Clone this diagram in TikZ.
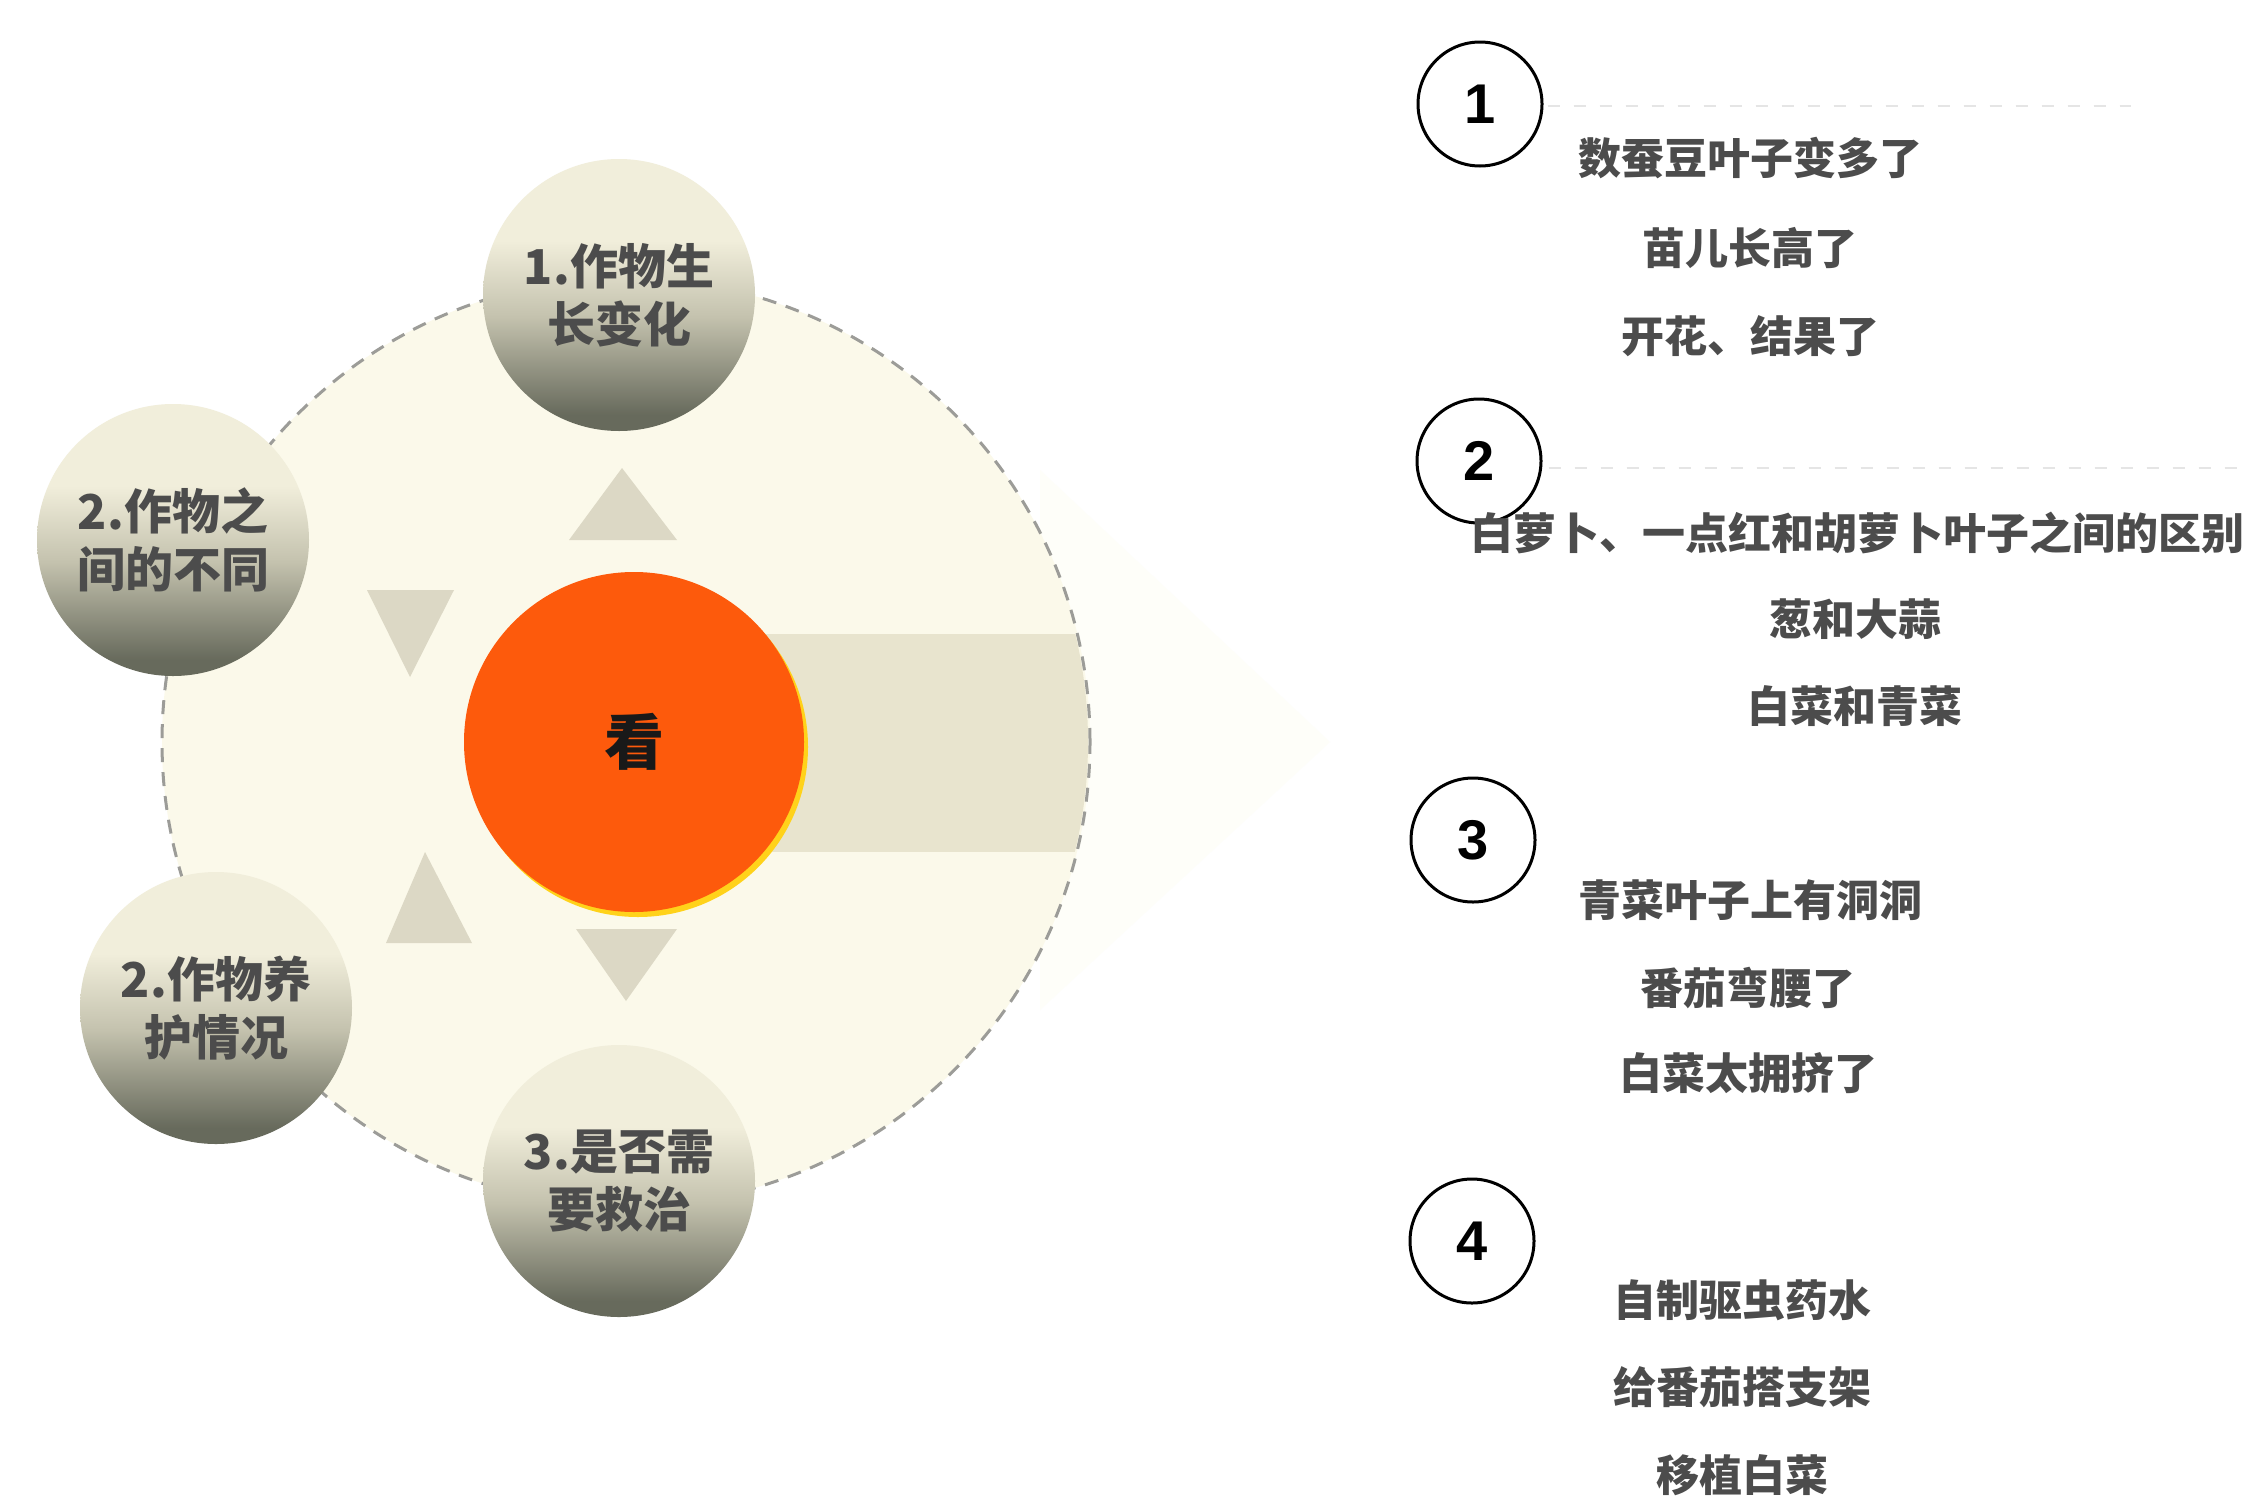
\documentclass[tikz,border=0pt]{standalone}
\usepackage{fontspec}
\newfontfamily\cjk{Noto Sans CJK SC}
\setmainfont{Liberation Sans}
\usetikzlibrary{shapes.geometric}
\definecolor{ballTop}{HTML}{F1EEDB}
\definecolor{ballMid}{HTML}{C4C2AE}
\definecolor{ballBot}{HTML}{676A5C}
\definecolor{cream}{HTML}{FBF9EA}
\definecolor{beige}{HTML}{E8E4CE}
\definecolor{tri}{HTML}{DCD8C5}
\definecolor{orangeC}{HTML}{FD5A0C}
\definecolor{rimY}{HTML}{FFD21A}
\definecolor{dashG}{HTML}{9C9C98}
\definecolor{txt}{HTML}{2C2C2C}
\definecolor{ghost}{HTML}{FEFEF9}
\pgfdeclareverticalshading{ballshade}{100bp}{color(0bp)=(ballBot); color(28bp)=(ballBot); color(46bp)=(ballMid); color(60bp)=(ballTop); color(100bp)=(ballTop)}
\tikzset{
  ball/.style={circle, minimum size=272pt, inner sep=0pt, shading=ballshade, align=center,
    font=\cjk\bfseries\fontsize{48}{58}\selectfont, text=txt!85},
  numc/.style={circle, draw=black, line width=3pt, fill=white, minimum size=124pt, inner sep=0pt,
    font=\bfseries\fontsize{56}{60}\selectfont},
  item/.style={font=\cjk\bfseries\fontsize{43}{50}\selectfont, text=txt!85, inner sep=0pt},
  tria/.style={fill=tri},
  faint/.style={draw=black!10, line width=2pt, dash pattern=on 12pt off 14pt}
}
\begin{document}
\begin{tikzpicture}[x=1pt,y=-1pt]
\useasboundingbox (0,0) rectangle (2258,1499);
\fill[white] (0,0) rectangle (2258,1499);
% faint arrow beyond the circle
\fill[ghost] (1040,470) -- (1330,742) -- (1040,1010) -- cycle;
% big dashed circle
\node[circle, minimum size=928pt, inner sep=0pt, fill=cream, draw=dashG, line width=3pt,
      dash pattern=on 14pt off 10pt] (big) at (626,742) {};
% beige band
\begin{scope}
  \clip (626,742) circle (462);
  \fill[beige] (634,634) rectangle (1090,852);
\end{scope}
% triangles
\fill[tria] (622,468) -- (677,540) -- (569,540) -- cycle;
\fill[tria] (367,590) -- (454,590) -- (410,677) -- cycle;
\fill[tria] (425,852) -- (472,943) -- (386,943) -- cycle;
\fill[tria] (576,929) -- (677,929) -- (626,1001) -- cycle;
% center
\fill[rimY] (638,747) circle (170);
\node[circle, fill=orangeC, minimum size=340pt, inner sep=0pt,
      font=\cjk\bfseries\fontsize{60}{60}\selectfont, text=black!90] (look) at (634,742) {看};
% balls
\node[ball] (b1) at (619,295) {1.作物生\\长变化};
\node[ball] (b2) at (173,540) {2.作物之\\间的不同};
\node[ball] (b3) at (216,1008) {2.作物养\\护情况};
\node[ball] (b4) at (619,1181) {3.是否需\\要救治};
% numbered circles
\node[numc] (n1) at (1480,104) {1};
\node[numc] (n2) at (1479,461) {2};
\node[numc] (n3) at (1473,840) {3};
\node[numc] (n4) at (1472,1241) {4};
\coordinate (e1) at (2131,106);
\coordinate (e2) at (2246,468);
\draw[faint] (n1.east) ++(4,2) -- (e1);
\draw[faint] (n2.east) ++(6,7) -- (e2);
% items
\node[item] (t11) at (1750,158) {数蚕豆叶子变多了};
\node[item] (t12) at (1750,248) {苗儿长高了};
\node[item] (t13) at (1750,336) {开花、结果了};
\node[item] (t21) at (1857,533) {白萝卜、一点红和胡萝卜叶子之间的区别};
\node[item] (t22) at (1855,619) {葱和大蒜};
\node[item] (t23) at (1855,706) {白菜和青菜};
\node[item] (t31) at (1750,900) {青菜叶子上有洞洞};
\node[item] (t32) at (1748,988) {番茄弯腰了};
\node[item] (t33) at (1748,1073) {白菜太拥挤了};
\node[item] (t41) at (1742,1300) {自制驱虫药水};
\node[item] (t42) at (1742,1387) {给番茄搭支架};
\node[item] (t43) at (1742,1475) {移植白菜};
\end{tikzpicture}
\end{document}
